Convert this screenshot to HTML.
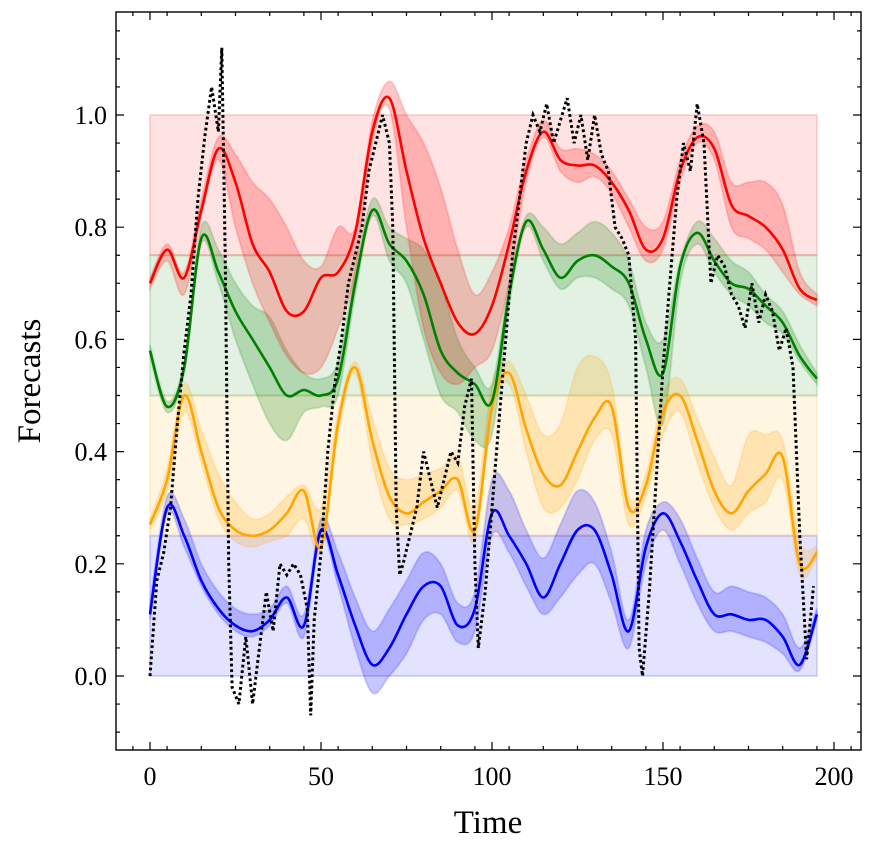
<!DOCTYPE html>
<html><head><meta charset="utf-8"><style>
body{margin:0;background:#fff}
svg{display:block;font-family:"Liberation Serif","DejaVu Serif",serif}
</style></head><body>
<svg id="chart" width="877" height="853" viewBox="0 0 877 853" xmlns="http://www.w3.org/2000/svg">
<g id="bands"></g>
<g id="series"></g>
<g id="axes"></g>
<text x="488" y="833" font-size="33" text-anchor="middle">Time</text>
<text transform="translate(40,381) rotate(-90)" font-size="33" text-anchor="middle">Forecasts</text>
</svg>
<script>
const tGrid=[0,5,10,15,20,25,30,35,40,45,50,55,60,65,70,75,80,85,90,95,100,105,110,115,120,125,130,135,140,145,150,155,160,165,170,175,180,185,190,195];
const redMean=[.70,.76,.71,.83,.94,.88,.77,.72,.65,.65,.71,.72,.79,.97,1.03,.90,.78,.70,.63,.61,.66,.77,.90,.97,.92,.91,.91,.88,.83,.76,.78,.90,.96,.94,.84,.82,.80,.76,.69,.67];
const redLo=[.69,.74,.68,.82,.92,.80,.70,.63,.57,.54,.55,.62,.72,.95,1.01,.80,.62,.54,.52,.55,.58,.70,.88,.96,.90,.88,.89,.86,.80,.74,.76,.88,.95,.92,.80,.78,.76,.72,.68,.66];
const redHi=[.71,.77,.72,.85,.96,.93,.88,.85,.80,.74,.73,.80,.80,.99,1.06,1.00,.95,.87,.76,.68,.72,.80,.92,.99,.94,.94,.93,.90,.85,.80,.81,.92,.98,.97,.88,.88,.88,.84,.72,.68];
const greenMean=[.58,.48,.55,.78,.72,.65,.60,.55,.50,.51,.50,.53,.70,.83,.77,.74,.68,.58,.54,.52,.49,.68,.81,.76,.71,.74,.75,.73,.70,.60,.54,.73,.79,.74,.70,.69,.66,.63,.57,.53];
const greenLo=[.57,.47,.54,.77,.70,.60,.52,.45,.42,.47,.48,.50,.68,.82,.74,.70,.60,.50,.47,.42,.43,.66,.80,.74,.69,.71,.71,.69,.66,.55,.45,.70,.77,.72,.68,.66,.63,.61,.56,.52];
const greenHi=[.59,.49,.56,.80,.76,.70,.66,.64,.58,.54,.53,.56,.72,.85,.80,.78,.76,.70,.60,.55,.52,.70,.82,.80,.77,.79,.81,.79,.74,.63,.60,.74,.81,.78,.74,.72,.68,.65,.59,.54];
const orangeMean=[.27,.35,.50,.40,.30,.26,.25,.26,.29,.33,.23,.45,.55,.42,.32,.29,.31,.33,.35,.26,.48,.54,.44,.36,.34,.40,.46,.48,.30,.34,.47,.50,.42,.33,.29,.33,.36,.39,.20,.22];
const orangeLo=[.26,.33,.47,.38,.28,.24,.23,.24,.25,.28,.22,.43,.54,.38,.28,.27,.28,.30,.33,.24,.47,.52,.40,.30,.30,.35,.42,.43,.27,.32,.43,.47,.38,.30,.26,.29,.31,.35,.18,.21];
const orangeHi=[.28,.37,.52,.44,.36,.31,.28,.29,.32,.34,.30,.47,.56,.46,.37,.35,.36,.37,.39,.30,.52,.56,.50,.43,.45,.55,.57,.52,.32,.36,.50,.53,.46,.39,.34,.43,.43,.42,.24,.23];
const blueMean=[.11,.30,.25,.17,.12,.09,.08,.10,.14,.09,.26,.18,.09,.02,.05,.11,.16,.16,.09,.12,.29,.25,.20,.14,.20,.26,.26,.18,.08,.23,.29,.24,.17,.11,.11,.10,.10,.07,.02,.11];
const blueLo=[.10,.29,.23,.16,.11,.08,.07,.09,.13,.07,.25,.16,.05,-.03,.00,.04,.10,.11,.06,.08,.25,.22,.16,.11,.14,.18,.20,.13,.05,.20,.26,.20,.13,.08,.08,.07,.06,.04,.01,.10];
const blueHi=[.13,.32,.28,.20,.15,.12,.11,.12,.16,.11,.28,.22,.14,.08,.12,.17,.22,.20,.13,.15,.35,.33,.26,.21,.27,.33,.31,.22,.10,.26,.31,.28,.21,.15,.16,.15,.14,.11,.05,.12];
const actualT=[0,2,4,6,8,10,12,14,16,18,20,21,22,23,24,26,28,30,32,34,36,38,40,42,44,46,47,48,50,52,54,56,58,60,62,64,66,68,70,71,72,73,74,76,78,80,82,84,86,88,90,92,94,95,96,98,100,102,104,106,108,110,112,114,116,118,120,122,124,126,128,130,132,134,136,138,140,142,143,144,146,148,150,152,154,156,158,160,162,164,166,168,170,172,174,176,178,180,182,184,186,188,190,192,194];
const actualV=[0,.17,.22,.30,.45,.58,.68,.85,.96,1.05,.97,1.12,.75,.20,-.02,-.05,.07,-.05,.05,.15,.08,.20,.18,.20,.18,.12,-.07,.10,.22,.40,.52,.60,.70,.75,.80,.90,.95,1.00,.95,.80,.30,.18,.20,.25,.30,.40,.35,.30,.35,.40,.38,.48,.53,.20,.05,.15,.30,.45,.60,.75,.85,.95,1.00,.97,1.02,.95,.99,1.03,.95,1.00,.92,1.00,.93,.90,.80,.78,.75,.60,.05,0,.15,.35,.55,.70,.85,.95,.90,1.02,.95,.70,.75,.73,.68,.66,.62,.70,.63,.68,.65,.58,.62,.55,.25,.03,.16];
const xTicks=[0,50,100,150,200];
const yTicks=[0.0,0.2,0.4,0.6,0.8,1.0];
const bandEdges=[0,0.25,0.5,0.75,1.0];
const bandColors=['#0000ff','#ffa500','#008000','#ff0000'];

const X=t=>150+t*3.42, Y=v=>676-v*561;
const NS='http://www.w3.org/2000/svg';
function mk(tag,attrs,parent){const e=document.createElementNS(NS,tag);for(const k in attrs)e.setAttribute(k,attrs[k]);parent.appendChild(e);return e;}
function smooth(pts){let d='M'+pts[0][0].toFixed(1)+','+pts[0][1].toFixed(1);
 for(let i=0;i<pts.length-1;i++){const p0=pts[Math.max(0,i-1)],p1=pts[i],p2=pts[i+1],p3=pts[Math.min(pts.length-1,i+2)];
 const c1=[p1[0]+(p2[0]-p0[0])/6,p1[1]+(p2[1]-p0[1])/6],c2=[p2[0]-(p3[0]-p1[0])/6,p2[1]-(p3[1]-p1[1])/6];
 d+=' C'+c1.map(v=>v.toFixed(1))+' '+c2.map(v=>v.toFixed(1))+' '+p2.map(v=>v.toFixed(1));}return d;}
const bands=document.getElementById('bands'),ser=document.getElementById('series'),axes=document.getElementById('axes');
for(let i=0;i<4;i++){
 const r=mk('rect',{x:X(0),y:Y(bandEdges[i+1]),width:X(195)-X(0),height:Y(bandEdges[i])-Y(bandEdges[i+1]),fill:bandColors[i],'fill-opacity':0.11,stroke:bandColors[i],'stroke-opacity':0.15,'stroke-width':2},bands);
 
 
}
const S=[['blue',blueMean,blueLo,blueHi,'#0000ff'],['orange',orangeMean,orangeLo,orangeHi,'#ffa500'],['green',greenMean,greenLo,greenHi,'#008000'],['red',redMean,redLo,redHi,'#ff0000']];
S.forEach(([n,m,lo,hi,c])=>{
 const up=tGrid.map((t,i)=>[X(t),Y(hi[i])]),dn=tGrid.map((t,i)=>[X(t),Y(lo[i])]).reverse();
 const a=mk('path',{d:smooth(up)+' L'+smooth(dn).slice(1)+' Z',fill:c,'fill-opacity':0.22,stroke:c,'stroke-opacity':0.15,'stroke-width':2},ser);
 
 
});
S.forEach(([n,m,lo,hi,c])=>{
 const l=mk('path',{d:smooth(tGrid.map((t,i)=>[X(t),Y(m[i])])),fill:'none',stroke:c,'stroke-width':2.6},ser);
 
 
});
const act=mk('path',{d:'M'+actualT.map((t,i)=>X(t).toFixed(1)+','+Y(actualV[i]).toFixed(1)).join(' L'),fill:'none',stroke:'#000','stroke-width':3,'stroke-dasharray':'2.8,2.8'},ser);


// axes
const L=116,R=861,T=12,B=750;
const fr=mk('rect',{x:L,y:T,width:R-L,height:B-T,fill:'none',stroke:'#000','stroke-width':1.4},axes);


let tk='';
for(let t=-5;t<=205;t+=10){const x=X(t);if(x<L||x>R)continue;tk+=`M${x},${B}v-4M${x},${T}v4`;}
for(let v=-0.1;v<=1.2;v+=0.05){const y=Y(v);if(y<T||y>B)continue;tk+=`M${L},${y}h4M${R},${y}h-4`;}
xTicks.forEach(t=>{const x=X(t);tk+=`M${x},${B}v-8M${x},${T}v8`;});
yTicks.forEach(v=>{const y=Y(v);tk+=`M${L},${y}h8M${R},${y}h-8`;});
const tp=mk('path',{d:tk,stroke:'#000','stroke-width':1.2,fill:'none'},axes);


xTicks.forEach(t=>{const e=mk('text',{x:X(t),y:785,'font-size':26,'text-anchor':'middle'},axes);e.textContent=t;
 
 });
yTicks.forEach(v=>{const e=mk('text',{x:107,y:Y(v)+9,'font-size':26,'text-anchor':'end'},axes);e.textContent=v.toFixed(1);
 
 });
</script>
</body></html>
